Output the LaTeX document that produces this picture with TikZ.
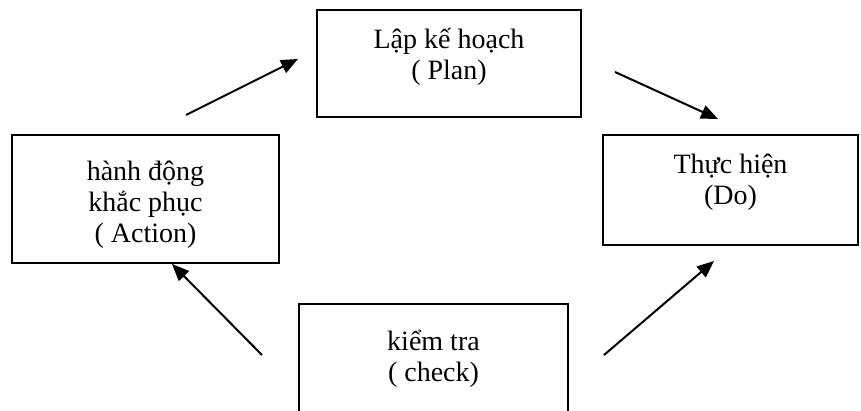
\documentclass[tikz,border=0pt]{standalone}
\usepackage{fontspec}
\setmainfont{Liberation Serif}
\usetikzlibrary{arrows.meta}
\begin{document}
\begin{tikzpicture}[x=1pt,y=-1pt,
  box/.style={draw=black, line width=2.4pt, rectangle, inner sep=0pt},
  txt/.style={align=center, inner sep=0pt, font=\fontsize{28}{31}\selectfont},
  link/.style={line width=2pt, -{Triangle[length=17pt,width=14pt]}}]
\useasboundingbox (0,0) rectangle (861,411);
\fill[white] (0,0) rectangle (861,411);

% the four PDCA stages
\node[box, minimum width=264pt, minimum height=107pt] (plan)   at (449,63.5)  {};
\node[box, minimum width=267pt, minimum height=128pt] (action) at (145.5,199) {};
\node[box, minimum width=255pt, minimum height=110pt] (do)     at (730.5,190) {};
\node[box, minimum width=269pt, minimum height=120pt] (check)  at (433.5,364) {};

\node[txt] (plantext)   at (449,57)    {Lập kế hoạch\\( Plan)};
\node[txt] (actiontext) at (145.5,205) {hành động\\khắc phục\\( Action)};
\node[txt] (dotext)     at (730.5,182) {Thực hiện\\(Do)};
\node[txt] (checktext)  at (433.5,359) {kiểm tra\\( check)};

% arrow ends, set off from the boxes
\coordinate (a1s) at (186,115); \coordinate (a1e) at (298,59);
\coordinate (a2s) at (615,72);  \coordinate (a2e) at (718,119);
\coordinate (a3s) at (262,355); \coordinate (a3e) at (172,264);
\coordinate (a4s) at (604,355); \coordinate (a4e) at (714,261);

\draw[link] (a1s) -- (a1e);
\draw[link] (a2s) -- (a2e);
\draw[link] (a3s) -- (a3e);
\draw[link] (a4s) -- (a4e);
\end{tikzpicture}
\end{document}
